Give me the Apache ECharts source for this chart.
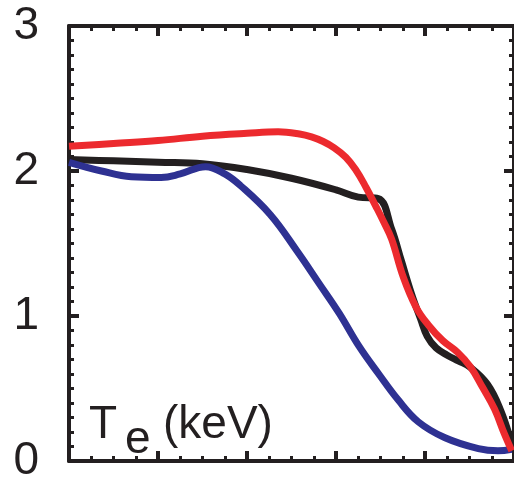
<!DOCTYPE html>
<html>
<head>
<meta charset="utf-8">
<script src="https://cdn.jsdelivr.net/npm/echarts@6/dist/echarts.min.js"></script>
<style>
  html, body { margin: 0; padding: 0; background: #fff; }
  #grafica { width: 514px; height: 484px; }
</style>
</head>
<body>
<div id="grafica"></div>
<script>
// datos (x normalizado 0..1)
var xNegro = [0, 0.1, 0.2, 0.3, 0.4, 0.5, 0.6, 0.65, 0.695, 0.725, 0.747, 0.77, 0.79, 0.805, 0.825, 0.85, 0.875, 0.9, 0.94, 0.97, 0.995];
var yNegro = [2.08, 2.07, 2.06, 2.05, 2.01, 1.95, 1.87, 1.82, 1.81, 1.60, 1.38, 1.15, 0.98, 0.86, 0.78, 0.73, 0.69, 0.65, 0.53, 0.35, 0.12];

var xRojo = [0, 0.1, 0.2, 0.3, 0.4, 0.47, 0.518, 0.545, 0.57, 0.596, 0.622, 0.644, 0.667, 0.689, 0.707, 0.725, 0.751, 0.78, 0.807, 0.84, 0.873, 0.902, 0.929, 0.956, 0.978, 0.995];
var yRojo = [2.17, 2.19, 2.21, 2.24, 2.26, 2.27, 2.255, 2.235, 2.205, 2.16, 2.095, 2.01, 1.89, 1.76, 1.65, 1.53, 1.27, 1.06, 0.94, 0.83, 0.75, 0.65, 0.51, 0.36, 0.19, 0.07];

var xAzul = [0, 0.073, 0.14, 0.207, 0.25, 0.307, 0.35, 0.385, 0.452, 0.512, 0.563, 0.607, 0.652, 0.696, 0.74, 0.785, 0.845, 0.92, 0.964, 0.995];
var yAzul = [2.06, 2.00, 1.96, 1.955, 1.98, 2.03, 1.98, 1.90, 1.70, 1.45, 1.22, 1.02, 0.79, 0.60, 0.42, 0.27, 0.16, 0.085, 0.07, 0.08];

var yTicks = ['0', '1', '2', '3'];

var colorEje = '#231f20';
var fuente = '"Liberation Sans", Arial, sans-serif';

function pares(xs, ys) {
    var out = [];
    xs.forEach(function (x, i) { out.push([x, ys[i]]); });
    return out;
}

function ejeX(pos) {
    return {
        type: 'value', position: pos, min: 0, max: 1, interval: 0.2,
        axisLine: { show: true, onZero: false, lineStyle: { color: colorEje, width: 4 } },
        axisTick: { show: true, inside: true, length: 10, lineStyle: { color: colorEje, width: 4 } },
        minorTick: { show: true, splitNumber: 4, length: 5, lineStyle: { color: colorEje, width: 3 } },
        axisLabel: { show: false },
        splitLine: { show: false }
    };
}

function ejeY(pos, etiquetas) {
    return {
        type: 'value', position: pos, min: 0, max: 3, interval: 1,
        axisLine: { show: true, onZero: false, lineStyle: { color: colorEje, width: 4 } },
        axisTick: { show: true, inside: true, length: 10, lineStyle: { color: colorEje, width: 4 } },
        minorTick: { show: true, splitNumber: 10, length: 5, lineStyle: { color: colorEje, width: 3 } },
        axisLabel: {
            show: etiquetas, margin: 30, fontSize: 46, color: colorEje, fontFamily: fuente,
            formatter: function (v) { return yTicks[Math.round(v)]; }
        },
        splitLine: { show: false }
    };
}

var chart = echarts.init(document.getElementById('grafica'), null, { renderer: 'canvas' });

chart.setOption({
    animation: false,
    grid: { left: 69, right: -3, top: 26, bottom: 17, containLabel: false },
    xAxis: [ejeX('bottom'), ejeX('top')],
    yAxis: [ejeY('left', true), ejeY('right', false)],
    series: [
        { type: 'line', name: 'negro', data: pares(xNegro, yNegro), smooth: 0.4, showSymbol: false,
          lineStyle: { color: '#231f20', width: 7 }, z: 3 },
        { type: 'line', name: 'azul', data: pares(xAzul, yAzul), smooth: 0.4, showSymbol: false,
          lineStyle: { color: '#2e3192', width: 7 }, z: 4 },
        { type: 'line', name: 'rojo', data: pares(xRojo, yRojo), smooth: 0.4, showSymbol: false,
          lineStyle: { color: '#ec2a2e', width: 7 }, z: 5 }
    ],
    graphic: [
        { type: 'text', left: 89, top: 402, style: { text: 'T', fontSize: 46, fontFamily: fuente, fill: colorEje } },
        { type: 'text', left: 125, top: 417, style: { text: 'e', fontSize: 46, fontFamily: fuente, fill: colorEje } },
        { type: 'text', left: 163, top: 402, style: { text: '(keV)', fontSize: 46, fontFamily: fuente, fill: colorEje } }
    ]
});
</script>
</body>
</html>
